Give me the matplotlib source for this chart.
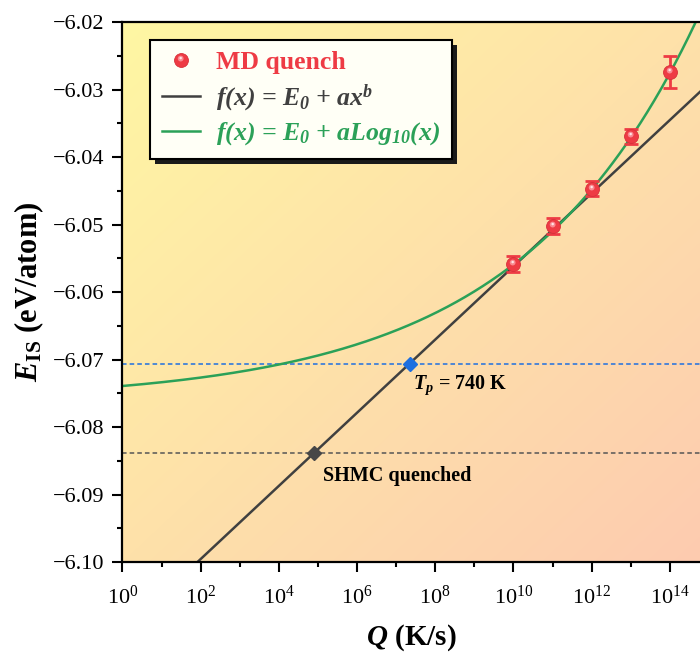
import numpy as np
import matplotlib
matplotlib.use("Agg")
import matplotlib.pyplot as plt
from matplotlib import ticker
from matplotlib.path import Path
from matplotlib.lines import Line2D
from matplotlib.patches import Rectangle
from matplotlib.transforms import IdentityTransform
from matplotlib.legend_handler import HandlerTuple

plt.rcParams["font.family"] = ["Liberation Serif", "DejaVu Serif"]
plt.rcParams["mathtext.fontset"] = "custom"
plt.rcParams["mathtext.rm"] = "Liberation Serif"
plt.rcParams["mathtext.it"] = "Liberation Serif:italic"
plt.rcParams["mathtext.bf"] = "Liberation Serif:bold"
plt.rcParams["mathtext.bfit"] = "Liberation Serif:italic:bold"

# MD quench results: cooling rate Q (K/s) and inherent-structure energy (eV/atom)
md_rate = [1e10, 1e11, 1e12, 1e13, 1e14]
md_energy = [-6.0559, -6.0502, -6.0447, -6.0369, -6.0274]
md_err = [0.0012, 0.0012, 0.0011, 0.0011, 0.0024]

# Straight (log-linear) extrapolation
lin_e0 = -6.1104
lin_slope = 0.00542

# Curved power-law extrapolation
pow_e0 = -6.0762
pow_a = 0.002275
pow_b = 0.095

# Reference energies
tp_energy = -6.0706
shmc_energy = -6.0839

x_min, x_max = 1.0, 10 ** 14.77
y_min, y_max = -6.10, -6.02

col_red = "#EE3B44"
col_black = "#404040"
col_green = "#2BA158"
col_blue = "#1E6FE0"
col_gray = "#555555"

fig = plt.figure(figsize=(7.0, 6.53), dpi=100)
ax = fig.add_axes([122.5 / 700, 91 / 653, 577.5 / 700, 540 / 653])

# diagonal yellow-to-peach background
c_tl = np.array([255, 247, 163]) / 255
c_br = np.array([253, 203, 176]) / 255
u = np.linspace(0, 1, 300)[None, :]
v = np.linspace(0, 1, 300)[:, None]
t = (u + v) / 2
grad = c_tl[None, None, :] * (1 - t[..., None]) + c_br[None, None, :] * t[..., None]
ax.imshow(grad, extent=[0, 1, 0, 1], transform=ax.transAxes, aspect="auto",
          origin="upper", zorder=0, interpolation="bilinear")

ax.set_xscale("log")

q = np.logspace(0, 15, 600)
ax.plot(q, lin_e0 + lin_slope * np.log10(q), color=col_black, lw=1.8, zorder=3)
ax.plot(q, pow_e0 + pow_a * q ** pow_b, color=col_green, lw=1.8, zorder=3)

ax.axhline(tp_energy, color=col_blue, lw=1.1, ls=(0, (3, 2)), zorder=2)
ax.axhline(shmc_energy, color=col_gray, lw=1.1, ls=(0, (3, 2)), zorder=2)

q_tp = 10 ** ((tp_energy - lin_e0) / lin_slope)
q_shmc = 10 ** ((shmc_energy - lin_e0) / lin_slope)
ax.plot([q_tp], [tp_energy], marker="D", ms=7.5, color=col_blue, zorder=5)
ax.plot([q_shmc], [shmc_energy], marker="D", ms=7.5, color="#474747", zorder=5)

ax.text(10 ** 7.42, -6.0738, r"$\mathbfit{T}_{\mathbfit{p}}$ = 740 K",
        fontsize=14.5, fontweight="bold", ha="left", va="center", zorder=6)
ax.text(10 ** 5.12, -6.0873, "SHMC quenched",
        fontsize=14.5, fontweight="bold", ha="left", va="center", zorder=6)

# MD points drawn as shaded spheres
ms = 10.0
ax.errorbar(md_rate, md_energy, yerr=md_err, fmt="none", ecolor=col_red,
            elinewidth=2.0, capsize=5, capthick=2.0, zorder=6)
ax.plot(md_rate, md_energy, ls="none", marker="o", ms=ms, mfc=col_red,
        mec="#D8303A", mew=0.6, zorder=7)
circ = Path.unit_circle()
hl1 = Path(circ.vertices * 0.42 + [-0.12, 0.28], circ.codes)
hl2 = Path(circ.vertices * 0.18 + [-0.12, 0.35], circ.codes)
r1 = np.max(np.abs(hl1.vertices))
r2 = np.max(np.abs(hl2.vertices))
ax.plot(md_rate, md_energy, ls="none", marker=hl1, ms=ms * r1, mfc="#F98A91",
        mec="none", zorder=8)
ax.plot(md_rate, md_energy, ls="none", marker=hl2, ms=ms * r2, mfc="#FFE4E6",
        mec="none", zorder=9)

ax.set_xlim(x_min, x_max)
ax.set_ylim(y_min, y_max)

ax.xaxis.set_major_locator(ticker.LogLocator(base=100.0, numticks=20))
ax.xaxis.set_minor_locator(ticker.LogLocator(base=10.0, subs=(1.0,), numticks=30))
ax.xaxis.set_major_formatter(ticker.LogFormatterSciNotation(base=10.0))
ax.xaxis.set_minor_formatter(ticker.NullFormatter())
ax.yaxis.set_major_locator(ticker.MultipleLocator(0.01))
ax.yaxis.set_minor_locator(ticker.MultipleLocator(0.005))
ax.yaxis.set_major_formatter(
    ticker.FuncFormatter(lambda val, pos: f"{val:.2f}".replace("-", "\u2212")))

for s in ["left", "bottom", "top"]:
    ax.spines[s].set_linewidth(1.6)
    ax.spines[s].set_zorder(10)
ax.spines["right"].set_visible(False)
ax.tick_params(which="major", direction="out", length=7, width=1.5, labelsize=16)
ax.tick_params(axis="x", which="major", pad=10)
ax.tick_params(axis="y", which="major", pad=6)
ax.tick_params(which="minor", direction="out", length=3.8, width=1.5)
ax.tick_params(top=False, right=False)

ax.set_xlabel(r"$\mathbfit{Q}$ (K/s)", fontsize=21, fontweight="bold")
ax.set_ylabel(r"$\mathbfit{E}_{\mathbf{IS}}$ (eV/atom)", fontsize=22, fontweight="bold")
ax.xaxis.set_label_coords(0.5, -0.112)
ax.yaxis.set_label_coords(-0.133, 0.5)

h_md = (Line2D([], [], ls="none", marker="o", ms=ms, mfc=col_red, mec="#D8303A", mew=0.6),
        Line2D([], [], ls="none", marker=hl1, ms=ms * r1, mfc="#F98A91", mec="none"),
        Line2D([], [], ls="none", marker=hl2, ms=ms * r2, mfc="#FFE4E6", mec="none"))
h_lin = Line2D([], [], color=col_black, lw=1.8)
h_pow = Line2D([], [], color=col_green, lw=1.8)
leg = ax.legend([h_md, h_lin, h_pow],
                ["MD quench",
                 r"f(x) = E$_{\mathbfit{0}}$ + ax$^{\mathbfit{b}}$",
                 r"f(x) = E$_{\mathbfit{0}}$ + aLog$_{\mathbfit{10}}$(x)"],
                handler_map={tuple: HandlerTuple(ndivide=1)},
                loc="upper left", bbox_to_anchor=(0.048, 0.967), borderaxespad=0,
                prop={"family": "Liberation Serif", "weight": "bold", "size": 18.5},
                labelcolor=[col_red, col_black, col_green],
                fancybox=False, framealpha=1, edgecolor="black",
                facecolor="#FFFFF6",
                handlelength=1.5, handletextpad=0.6, labelspacing=0.3,
                borderpad=0.45)
leg.get_frame().set_linewidth(1.5)
leg.set_zorder(12)
for txt in leg.get_texts()[1:]:
    txt.set_fontstyle("italic")

# dark drop shadow offset down-right of the legend box
fig.canvas.draw()
bb = leg.get_window_extent()
shadow = Rectangle((bb.x0 + 5, bb.y0 - 5), bb.width, bb.height,
                   transform=IdentityTransform(), facecolor="#1A1A1A",
                   edgecolor="none", zorder=11)
ax.add_artist(shadow)

fig.savefig("out.png", dpi=100)
